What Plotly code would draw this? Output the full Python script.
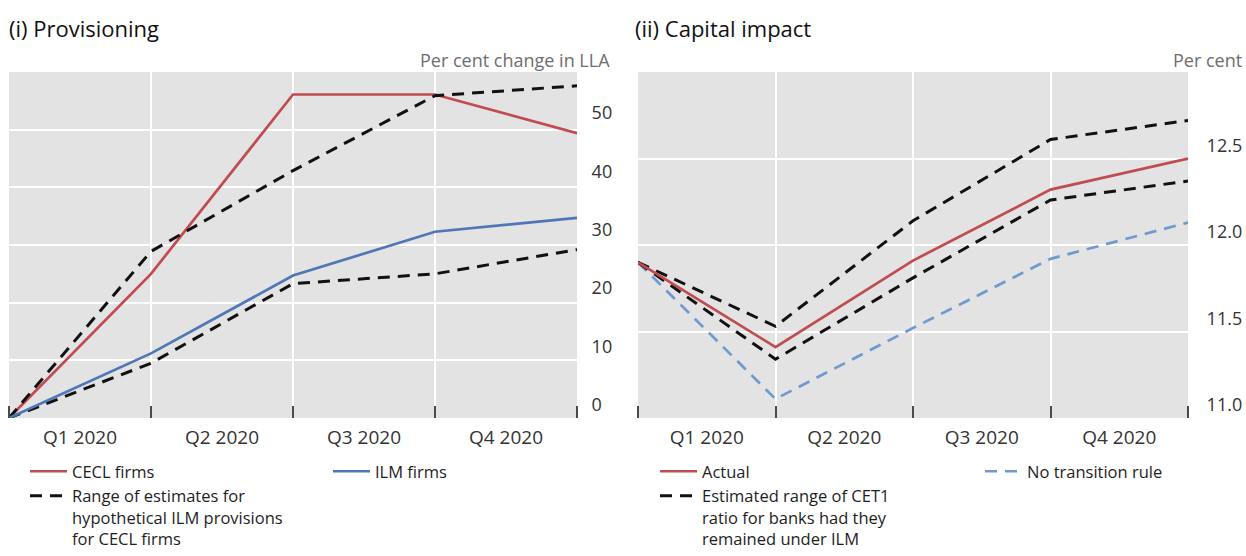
import plotly.graph_objects as go

W, H = 1246, 556

# ---------------- data ----------------
points = [0, 1, 2, 3, 4]                      # quarter-end positions (end-Q4 2019 .. end-Q4 2020)
quarter_labels = ["Q1 2020", "Q2 2020", "Q3 2020", "Q4 2020"]
quarter_centres = [0.5, 1.5, 2.5, 3.5]

# (i) Provisioning, per cent change in LLA
cecl_firms = [0, 25.0, 56.1, 56.1, 49.4]
ilm_firms = [0, 11.2, 24.7, 32.3, 34.7]
ilm_hyp_upper = [0, 28.9, 42.9, 55.9, 57.6]
ilm_hyp_lower = [0, 9.5, 23.3, 25.0, 29.2]
prov_ticks = [0, 10, 20, 30, 40, 50]

# (ii) Capital impact, per cent
actual = [11.90, 11.41, 11.91, 12.32, 12.50]
est_upper = [11.90, 11.53, 12.14, 12.61, 12.72]
est_lower = [11.90, 11.34, 11.81, 12.26, 12.37]
no_transition = [11.90, 11.11, 11.52, 11.92, 12.13]
cap_ticks = [11.0, 11.5, 12.0, 12.5]

# ---------------- styling ----------------
FONT = "Open Sans"
RED = "#c04b51"
BLUE = "#4f76b6"
LBLUE = "#6f9ad0"
BLACK = "#111111"
BG = "#e3e3e3"
DASH = "12px,8px"


def px_x(p):
    return p / W


def px_y(p):
    return (H - p) / H


fig = go.Figure()

# left panel traces
fig.add_trace(go.Scatter(x=points, y=cecl_firms, mode="lines", name="CECL firms",
                         line=dict(color=RED, width=2.7), xaxis="x", yaxis="y", legend="legend"))
fig.add_trace(go.Scatter(x=points, y=ilm_hyp_upper, mode="lines",
                         name="Range of estimates for<br>hypothetical ILM provisions<br>for CECL firms",
                         line=dict(color=BLACK, width=3, dash=DASH), xaxis="x", yaxis="y", legend="legend"))
fig.add_trace(go.Scatter(x=points, y=ilm_hyp_lower, mode="lines", showlegend=False,
                         line=dict(color=BLACK, width=3, dash=DASH), xaxis="x", yaxis="y"))
fig.add_trace(go.Scatter(x=points, y=ilm_firms, mode="lines", name="ILM firms",
                         line=dict(color=BLUE, width=2.7), xaxis="x", yaxis="y", legend="legend2"))

# right panel traces
fig.add_trace(go.Scatter(x=points, y=no_transition, mode="lines", name="No transition rule",
                         line=dict(color=LBLUE, width=2.7, dash=DASH), xaxis="x2", yaxis="y2", legend="legend4"))
fig.add_trace(go.Scatter(x=points, y=est_upper, mode="lines",
                         name="Estimated range of CET1<br>ratio for banks had they<br>remained under ILM",
                         line=dict(color=BLACK, width=3, dash=DASH), xaxis="x2", yaxis="y2",
                         legend="legend3", legendrank=2))
fig.add_trace(go.Scatter(x=points, y=est_lower, mode="lines", showlegend=False,
                         line=dict(color=BLACK, width=3, dash=DASH), xaxis="x2", yaxis="y2"))
fig.add_trace(go.Scatter(x=points, y=actual, mode="lines", name="Actual",
                         line=dict(color=RED, width=2.7), xaxis="x2", yaxis="y2",
                         legend="legend3", legendrank=1))

# dummy traces so the label axes render
fig.add_trace(go.Scatter(x=[None], y=[None], xaxis="x", yaxis="y3", showlegend=False, hoverinfo="skip"))
fig.add_trace(go.Scatter(x=[None], y=[None], xaxis="x2", yaxis="y4", showlegend=False, hoverinfo="skip"))

ydom = [px_y(418), px_y(72)]

xcommon = dict(
    range=[0, 4], tickmode="array", tickvals=quarter_centres, ticktext=quarter_labels,
    ticks="", showgrid=False, zeroline=False, showline=False, automargin=False,
    tickfont=dict(family=FONT, size=19, color="#333333"),
    ticklabelstandoff=6,
    minor=dict(tickmode="linear", tick0=0, dtick=1, ticks="inside", ticklen=12, tickwidth=2,
               tickcolor="#4a4a4a", showgrid=True, gridcolor="white", gridwidth=2),
)

ytickfont = dict(family=FONT, size=18, color="#333333")

fig.update_layout(
    width=W, height=H,
    margin=dict(l=0, r=0, t=0, b=0, autoexpand=False),
    paper_bgcolor="white", plot_bgcolor=BG,
    font=dict(family=FONT, color="#222222"),
    xaxis=dict(domain=[px_x(9), px_x(577)], anchor="y", **xcommon),
    xaxis2=dict(domain=[px_x(638), px_x(1188)], anchor="y2", **xcommon),
    yaxis=dict(domain=ydom, anchor="x", range=[0, 60], tickmode="linear", tick0=0, dtick=10,
               showticklabels=False, ticks="", showgrid=True, gridcolor="white", gridwidth=2,
               zeroline=False, showline=False, automargin=False),
    yaxis2=dict(domain=ydom, anchor="x2", range=[11, 13], tickmode="linear", tick0=11, dtick=0.5,
                showticklabels=False, ticks="", showgrid=True, gridcolor="white", gridwidth=2,
                zeroline=False, showline=False, automargin=False),
    # label axes: values sit slightly above their gridlines, as in the original
    yaxis3=dict(overlaying="y", anchor="x", side="right", range=[-2.23, 57.02],
                tickmode="array", tickvals=prov_ticks, ticktext=[str(v) for v in prov_ticks],
                showgrid=False, zeroline=False, showline=False, ticks="outside", ticklen=10,
                tickcolor="rgba(0,0,0,0)", tickfont=ytickfont, automargin=False),
    yaxis4=dict(overlaying="y2", anchor="x2", side="right", range=[11 - 0.075, 13 - 0.075],
                tickmode="array", tickvals=cap_ticks, ticktext=[f"{v:.1f}" for v in cap_ticks],
                showgrid=False, zeroline=False, showline=False, ticks="outside", ticklen=14,
                tickcolor="rgba(0,0,0,0)", tickfont=ytickfont, automargin=False),
    showlegend=True,
)

legend_common = dict(orientation="v", yanchor="top", xanchor="left", bgcolor="rgba(0,0,0,0)",
                     font=dict(family=FONT, size=16.5, color="#1e1e1e"), valign="top",
                     itemwidth=37, tracegroupgap=0, traceorder="normal")
fig.update_layout(
    legend=dict(x=px_x(25), y=px_y(454), **legend_common),
    legend2=dict(x=px_x(328), y=px_y(454), **legend_common),
    legend3=dict(x=px_x(655), y=px_y(454), **legend_common),
    legend4=dict(x=px_x(980), y=px_y(454), **legend_common),
)

annotations = [
    dict(text="(i) Provisioning", x=px_x(7), y=px_y(28), xanchor="left", yanchor="middle",
         font=dict(family=FONT, size=22, color="#111111")),
    dict(text="(ii) Capital impact", x=px_x(633), y=px_y(28), xanchor="left", yanchor="middle",
         font=dict(family=FONT, size=22, color="#111111")),
    dict(text="Per cent change in LLA", x=px_x(612), y=px_y(60), xanchor="right", yanchor="middle",
         font=dict(family=FONT, size=18, color="#6e6e6e")),
    dict(text="Per cent", x=px_x(1244), y=px_y(60), xanchor="right", yanchor="middle",
         font=dict(family=FONT, size=18, color="#6e6e6e")),
]
for a in annotations:
    a.update(xref="paper", yref="paper", showarrow=False)
fig.update_layout(annotations=annotations)

# remove the browser's default body margin so the figure fills the window exactly
fig.write_html("out.html", config={"displayModeBar": False},
               post_script="document.body.style.margin='0';document.body.style.overflow='hidden';")
